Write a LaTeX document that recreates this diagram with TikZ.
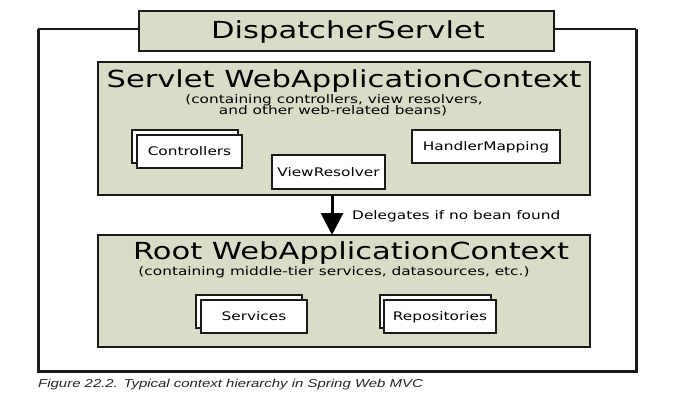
\documentclass[tikz,border=0pt]{standalone}
\usepackage{fontspec}
\setmainfont{DejaVu Sans}
\newfontfamily\capfont{Liberation Sans}
\usepackage{graphicx}
\usetikzlibrary{arrows.meta}
\definecolor{ctxfill}{HTML}{D9DCC6}
\definecolor{edge}{HTML}{1A1A1A}
\newcommand\wide[1]{\scalebox{1.3}[1]{#1}}
\tikzset{
  ctx/.style={draw=edge, fill=ctxfill, line width=1.5pt, inner sep=0pt, outer sep=0pt},
  bean/.style={draw=edge, fill=white, line width=1.2pt, inner sep=0pt, outer sep=0pt},
  big/.style={font=\fontsize{23.5}{24}\selectfont, inner sep=0pt, text=black},
  small/.style={font=\fontsize{11.8}{12}\selectfont, inner sep=0pt, text=black},
  capstyle/.style={font=\capfont\itshape\fontsize{11.5}{12}\selectfont, inner sep=0pt, text=black!85},
}
\begin{document}
\begin{tikzpicture}[x=1pt,y=-1pt]
\useasboundingbox (0,0) rectangle (696,400);
\fill[white] (0,0) rectangle (696,400);
% outer frame
\coordinate (otl) at (38,29);
\coordinate (obr) at (636,371);
\draw[line width=3pt, draw=edge] (otl) -- (otl |- obr) -- (obr) -- (obr |- otl);
\draw[line width=1.5pt, draw=edge] (otl) -- (obr |- otl);
% DispatcherServlet
\node[ctx, minimum width=415, minimum height=40] (disp) at (346.5,31) {};
\node[big, anchor=base] (disptext) at (348,38.2) {\wide{DispatcherServlet}};
% Servlet WebApplicationContext
\node[ctx, minimum width=492, minimum height=133] (servlet) at (344,128.5) {};
\node[big, anchor=base] (stitle) at (344,87.2) {\wide{Servlet WebApplicationContext}};
\node[small, anchor=base] (ssub1) at (334,103.3) {\wide{(containing controllers, view resolvers,}};
\node[small, anchor=base] (ssub2) at (333,114.4) {\wide{and other web-related beans)}};
% Controllers
\node[bean, minimum width=106, minimum height=33] (ctrlb) at (185,146.5) {};
\node[bean, minimum width=105, minimum height=33] (ctrl) at (189.5,151.5) {};
\node[small, anchor=base] (ctrlt) at ([yshift=-4.3pt]ctrl.center) {\wide{Controllers}};
% ViewResolver
\node[bean, minimum width=113, minimum height=34] (vr) at (328.5,172) {};
\node[small, anchor=base] (vrt) at ([yshift=-4.3pt]vr.center) {\wide{ViewResolver}};
% HandlerMapping
\node[bean, minimum width=148, minimum height=33] (hm) at (486,146.5) {};
\node[small, anchor=base] (hmt) at ([yshift=-4.3pt]hm.center) {\wide{HandlerMapping}};
% Root WebApplicationContext
\node[ctx, minimum width=492, minimum height=112] (root) at (344,291) {};
\node[big, anchor=base] (rtitle) at (351,259.4) {\wide{Root WebApplicationContext}};
\node[small, anchor=base] (rsub) at (334,275.3) {\wide{(containing middle-tier services, datasources, etc.)}};
% Services
\node[bean, minimum width=106, minimum height=33] (servb) at (249,311.5) {};
\node[bean, minimum width=106, minimum height=33] (serv) at (254,316.5) {};
\node[small, anchor=base] (servt) at ([yshift=-4.3pt]serv.center) {\wide{Services}};
% Repositories
\node[bean, minimum width=111, minimum height=33] (repob) at (435.5,311.5) {};
\node[bean, minimum width=112, minimum height=33] (repo) at (440,316.5) {};
\node[small, anchor=base] (repot) at ([yshift=-4.3pt]repo.center) {\wide{Repositories}};
% delegation arrow
\coordinate (ax) at (332,0);
\draw[line width=3pt, draw=black, -{Triangle[width=22pt,length=22pt]}] (servlet.south -| ax) -- (root.north -| ax);
\node[small, anchor=base west] (deleg) at (352,219.3) {\wide{Delegates if no bean found}};
% caption
\node[capstyle, anchor=base west] (cap) at (38,387.1) {\wide{Figure 22.2. Typical context hierarchy in Spring Web MVC}};
\end{tikzpicture}
\end{document}
